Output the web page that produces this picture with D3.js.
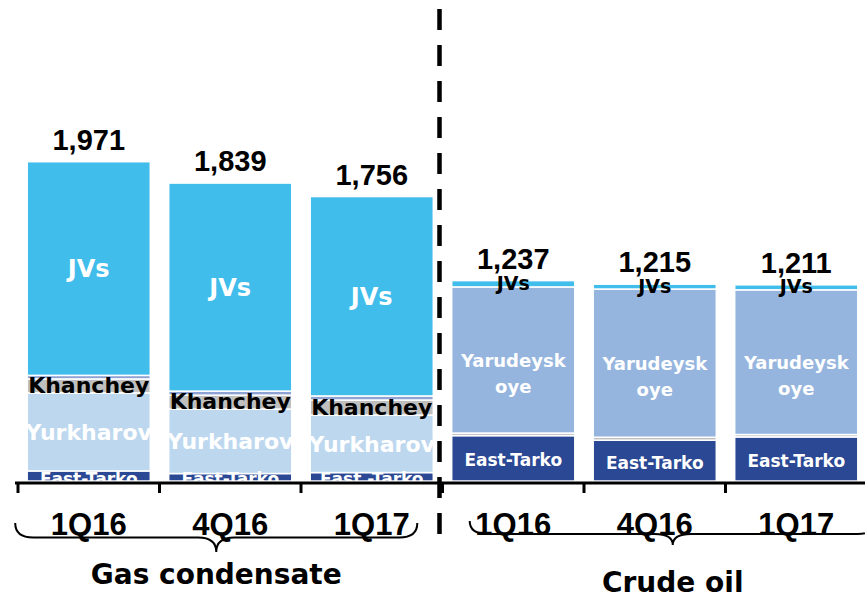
<!DOCTYPE html>
<html>
<head>
<meta charset="utf-8">
<script src="https://cdn.jsdelivr.net/npm/d3@7"></script>
<style>
  body { margin: 0; background: #fff; }
  text { font-weight: bold; }
</style>
</head>
<body>
<div id="chart"></div>
<script>
// values (thousand tonnes, stacked)
var quarters = ["1Q16", "4Q16", "1Q17", "1Q16", "4Q16", "1Q17"];
var groups = ["Gas condensate", "Crude oil"];
var groupOf = [0, 0, 0, 1, 1, 1];

var eastTarko    = [62, 46, 52, 280, 252, 272];
var yurkharov    = [482, 398, 355, 0, 0, 0];
var khanchey     = [86, 86, 93, 16, 18, 15];
var yarudeyskoye = [0, 0, 0, 902, 915, 893];
var others       = [22, 25, 25, 0, 0, 0];
var jvs          = [1319, 1284, 1231, 39, 30, 31];

var eastTarkoLabels = ["East-Tarko", "East-Tarko", "East -Tarko", "East-Tarko", "East-Tarko", "East-Tarko"];

var seriesNames = ["East-Tarko", "Yurkharov", "Khanchey", "Yarudeyskoye", "Others", "JVs"];
var seriesValues = [eastTarko, yurkharov, khanchey, yarudeyskoye, others, jvs];

var W = 865, H = 594;
var wordFont = "'DejaVu Sans', sans-serif",
    numFont = "'Liberation Sans', Arial, sans-serif";

var rows = quarters.map(function(q, i) {
  var r = { i: i };
  seriesNames.forEach(function(s, k) { r[s] = seriesValues[k][i]; });
  return r;
});

var stacked = d3.stack().keys(seriesNames)(rows);

var color = d3.scaleOrdinal()
  .domain(seriesNames)
  .range(["#2A4894", "#BDD7EE", "#BFBFBF", "#95B5DE", "#8EA3D3", "#41BDEC"]);

var x = d3.scaleBand()
  .domain(d3.range(quarters.length))
  .range([18, 867])
  .paddingInner(0.13)
  .paddingOuter(0.065);

var y = d3.scaleLinear()
  .domain([0, 2000])
  .range([481, 157]);

var svg = d3.select("#chart").append("svg")
  .attr("width", W)
  .attr("height", H);

// bars
var layers = svg.append("g").selectAll("g")
  .data(stacked)
  .join("g")
    .attr("fill", function(d) { return color(d.key); });

layers.selectAll("rect")
  .data(function(d) { return d.filter(function(e) { return e[1] - e[0] > 0; }); })
  .join("rect")
    .attr("x", function(d) { return x(d.data.i); })
    .attr("width", x.bandwidth())
    .attr("y", function(d) { return y(d[1]); })
    .attr("height", function(d) { return y(d[0]) - y(d[1]); })
    .attr("stroke", "#fff")
    .attr("stroke-width", 1.5);

// segment labels
var segLabels = svg.append("g").attr("text-anchor", "middle");

stacked.forEach(function(layer) {
  layer.forEach(function(d) {
    var i = d.data.i, g = groupOf[i];
    var cx = x(i) + x.bandwidth() / 2;
    var top = y(d[1]), bot = y(d[0]), mid = (top + bot) / 2;
    var key = layer.key;
    if (d[1] - d[0] <= 0) return;

    if (g === 0) {
      if (key === "JVs") {
        segLabels.append("text").attr("x", cx).attr("y", mid).attr("dy", "0.36em")
          .attr("fill", "#fff").attr("font-size", 24).attr("font-family", wordFont).text("JVs");
      } else if (key === "Khanchey") {
        segLabels.append("text").attr("x", cx).attr("y", bot)
          .attr("fill", "#000").attr("font-size", 22).attr("font-family", wordFont).text("Khanchey");
      } else if (key === "Yurkharov") {
        segLabels.append("text").attr("x", cx).attr("y", mid).attr("dy", "0.36em")
          .attr("fill", "#fff").attr("font-size", 22).attr("font-family", wordFont).text("Yurkharov");
      } else if (key === "East-Tarko") {
        segLabels.append("text").attr("x", cx).attr("y", y(0) + 4)
          .attr("fill", "#fff").attr("font-size", 17).attr("font-family", wordFont).text(eastTarkoLabels[i]);
      }
    } else {
      if (key === "JVs") {
        segLabels.append("text").attr("x", cx).attr("y", bot + 3.5)
          .attr("fill", "#000").attr("font-size", 19).attr("font-family", wordFont).text("JVs");
      } else if (key === "Yarudeyskoye") {
        var t = segLabels.append("text").attr("fill", "#fff").attr("font-size", 18).attr("font-family", wordFont);
        t.append("tspan").attr("x", cx).attr("y", mid + 7).text("Yarudeysk");
        t.append("tspan").attr("x", cx).attr("y", mid + 33).text("oye");
      } else if (key === "East-Tarko") {
        segLabels.append("text").attr("x", cx).attr("y", mid + 2).attr("dy", "0.36em")
          .attr("fill", "#fff").attr("font-size", 17).attr("font-family", wordFont).text(eastTarkoLabels[i]);
      }
    }
  });
});

// totals
svg.append("g").selectAll("text")
  .data(rows)
  .join("text")
    .attr("text-anchor", "middle")
    .attr("x", function(d) { return x(d.i) + x.bandwidth() / 2; })
    .attr("y", function(d) { return y(d3.sum(seriesNames, function(s) { return d[s]; })) - 12; })
    .attr("font-family", numFont)
    .attr("font-size", 29)
    .text(function(d) { return d3.format(",")(d3.sum(seriesNames, function(s) { return d[s]; })); });

// axis line + ticks at band boundaries
var half = x.step() * x.paddingInner() / 2;
var bounds = d3.range(quarters.length).map(function(i) { return x(i) - half; });
bounds.push(x(quarters.length - 1) + x.bandwidth() + half);

svg.append("line")
  .attr("x1", 15).attr("x2", W)
  .attr("y1", y(0) + 2).attr("y2", y(0) + 2)
  .attr("stroke", "#000").attr("stroke-width", 3);

svg.append("g").selectAll("line")
  .data(bounds)
  .join("line")
    .attr("x1", function(d) { return d; }).attr("x2", function(d) { return d; })
    .attr("y1", y(0) + 2).attr("y2", y(0) + 12)
    .attr("stroke", "#000").attr("stroke-width", 3);

// dashed divider between the two groups
var divX = (x(2) + x.bandwidth() + x(3)) / 2 - 3;
svg.append("line")
  .attr("x1", divX).attr("x2", divX)
  .attr("y1", 9).attr("y2", 534)
  .attr("stroke", "#000").attr("stroke-width", 4.5)
  .attr("stroke-dasharray", "21,15");

// quarter labels
svg.append("g").selectAll("text")
  .data(rows)
  .join("text")
    .attr("text-anchor", "middle")
    .attr("x", function(d) { return x(d.i) + x.bandwidth() / 2; })
    .attr("y", 535)
    .attr("font-family", numFont)
    .attr("font-size", 31)
    .text(function(d) { return quarters[d.i]; });

// curly braces under each group
function brace(x1, x2, yTip, yLine, yPoint, r) {
  var xm = (x1 + x2) / 2;
  return "M" + x1 + "," + yTip +
    " Q" + x1 + "," + yLine + " " + (x1 + r) + "," + yLine +
    " L" + (xm - r) + "," + yLine +
    " Q" + xm + "," + yLine + " " + xm + "," + yPoint +
    " Q" + xm + "," + yLine + " " + (xm + r) + "," + yLine +
    " L" + (x2 - r) + "," + yLine +
    " Q" + x2 + "," + yLine + " " + x2 + "," + yTip;
}

var braces = [
  { x1: x(0) - 12, x2: x(2) + x.bandwidth() - 16, yTip: 523, yLine: 537.5, yPoint: 552 },
  { x1: x(3) + 18, x2: x(5) + x.bandwidth() + 18, yTip: 521, yLine: 534, yPoint: 545 }
];

svg.append("g").selectAll("path")
  .data(braces)
  .join("path")
    .attr("d", function(b) { return brace(b.x1, b.x2, b.yTip, b.yLine, b.yPoint, 18); })
    .attr("fill", "none")
    .attr("stroke", "#000")
    .attr("stroke-width", 2);

// group titles
svg.append("g").selectAll("text")
  .data(groups)
  .join("text")
    .attr("text-anchor", "middle")
    .attr("x", function(d, k) { return (braces[k].x1 + braces[k].x2) / 2; })
    .attr("y", function(d, k) { return k === 0 ? 584 : 592; })
    .attr("font-family", wordFont)
    .attr("font-size", 28)
    .text(function(d) { return d; });
</script>
</body>
</html>
